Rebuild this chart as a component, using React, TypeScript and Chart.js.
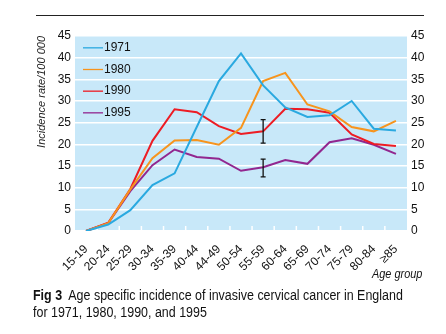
import React, { useEffect, useRef } from "react";
import { Chart, registerables } from "chart.js";

Chart.register(...registerables);

const ageGroups = ["15-19", "20-24", "25-29", "30-34", "35-39", "40-44", "44-49", "50-54", "55-59", "60-64", "65-69", "70-74", "75-79", "80-84", "≥85"];
const seriesLabels = ["1971", "1980", "1990", "1995"];
const rate1971 = [0, 1.5, 4.8, 10.6, 13.3, 24.0, 34.6, 41.0, 33.6, 28.5, 26.3, 26.7, 30.0, 23.6, 23.2];
const rate1980 = [0, 1.8, 9.6, 16.8, 20.9, 21.0, 19.9, 23.8, 34.6, 36.5, 29.2, 27.6, 24.0, 23.0, 25.4];
const rate1990 = [0, 1.9, 9.7, 20.8, 28.1, 27.4, 24.2, 22.4, 23.0, 28.2, 28.1, 27.3, 22.3, 20.1, 19.6];
const rate1995 = [0, 1.8, 9.2, 15.2, 18.8, 17.1, 16.7, 13.9, 14.7, 16.4, 15.5, 20.5, 21.4, 19.9, 17.8];
const seriesColors = ["#2aa9e0", "#f7941d", "#ed1c24", "#92278f"];
const yMin = 0;
const yMax = 45;
const yStep = 5;
// error bars: age group, low, high
const errorGroups = ["55-59", "55-59"];
const errorLow = [20.3, 12.5];
const errorHigh = [25.7, 16.6];

const FONT = '"Liberation Sans", Arial, Helvetica, sans-serif';

const bgPlugin = {
  id: "bg",
  beforeDraw(chart: any) {
    const { ctx, chartArea: a } = chart;
    ctx.save();
    ctx.fillStyle = "#c8e8f9";
    ctx.fillRect(a.left, a.top, a.right - a.left, a.bottom - a.top);
    ctx.restore();
  },
  beforeDatasetsDraw(chart: any) {
    const { ctx, chartArea: a } = chart;
    const xs = chart.scales.x;
    ctx.save();
    ctx.strokeStyle = "#ffffff";
    ctx.lineWidth = 1.5;
    for (let i = 1; i < ageGroups.length; i++) {
      const px = (xs.getPixelForValue(i - 1) + xs.getPixelForValue(i)) / 2;
      ctx.beginPath();
      ctx.moveTo(px, a.bottom);
      ctx.lineTo(px, a.bottom - 5);
      ctx.stroke();
    }
    ctx.restore();
  },
  afterDatasetsDraw(chart: any) {
    const { ctx } = chart;
    const xs = chart.scales.x;
    const ys = chart.scales.y;
    ctx.save();
    // error bars
    ctx.strokeStyle = "#111";
    ctx.lineWidth = 1.3;
    for (let i = 0; i < errorGroups.length; i++) {
      const px = xs.getPixelForValue(ageGroups.indexOf(errorGroups[i]));
      const y1 = ys.getPixelForValue(errorLow[i]);
      const y2 = ys.getPixelForValue(errorHigh[i]);
      ctx.beginPath();
      ctx.moveTo(px, y1);
      ctx.lineTo(px, y2);
      ctx.moveTo(px - 2.5, y1);
      ctx.lineTo(px + 2.5, y1);
      ctx.moveTo(px - 2.5, y2);
      ctx.lineTo(px + 2.5, y2);
      ctx.stroke();
    }
    // legend
    const left = chart.chartArea.left;
    ctx.font = `12px ${FONT}`;
    ctx.textBaseline = "middle";
    ctx.textAlign = "left";
    chart.data.datasets.forEach((ds: any, i: number) => {
      const py = ys.getPixelForValue(yMax - yStep / 2 - yStep * i) + 1;
      ctx.strokeStyle = ds.borderColor;
      ctx.lineWidth = 1.3;
      ctx.beginPath();
      ctx.moveTo(left + 8, py);
      ctx.lineTo(left + 28, py);
      ctx.stroke();
      ctx.fillStyle = "#111";
      ctx.fillText(ds.label, left + 29, py);
    });
    ctx.restore();
  },
};

export default function App() {
  const ref = useRef<HTMLCanvasElement>(null);
  useEffect(() => {
    if (!ref.current) return;
    const tickFont = { family: FONT, size: 12 };
    const chart = new Chart(ref.current, {
      type: "line",
      data: {
        labels: ageGroups,
        datasets: [rate1971, rate1980, rate1990, rate1995].map((d, i) => ({
          label: seriesLabels[i],
          data: d,
          borderColor: seriesColors[i],
          backgroundColor: seriesColors[i],
          borderWidth: 2,
          pointRadius: 0,
          tension: 0,
          fill: false,
        })),
      },
      options: {
        animation: false,
        responsive: false,
        layout: { padding: { top: 36, left: 30, right: 0, bottom: 0 } },
        plugins: { legend: { display: false }, tooltip: { enabled: false } },
        scales: {
          x: {
            offset: true,
            grid: { display: false },
            border: { display: false },
            ticks: { font: tickFont, color: "#111", maxRotation: 45, minRotation: 45, padding: 3, autoSkip: false },
            afterFit(s: any) { s.height = 59; },
          },
          y: {
            min: yMin,
            max: yMax,
            position: "left",
            grid: { color: "#ffffff", lineWidth: 1.5, drawTicks: false },
            border: { display: false },
            ticks: { font: tickFont, color: "#111", stepSize: yStep, padding: 4 },
            title: {
              display: true,
              text: "Incidence rate/100 000",
              align: "end",
              color: "#222",
              font: { family: FONT, size: 11, style: "italic" },
              padding: { top: 5, bottom: 0 },
            },
            afterFit(s: any) { s.width = 45; },
          },
          y2: {
            min: yMin,
            max: yMax,
            position: "right",
            grid: { display: false, drawTicks: false },
            border: { display: false },
            ticks: { font: tickFont, color: "#111", stepSize: yStep, padding: 4 },
            afterFit(s: any) { s.width = 39; },
          },
        },
      },
      plugins: [bgPlugin],
    } as any);
    return () => chart.destroy();
  }, []);

  return (
    <div style={{ position: "absolute", left: 0, top: 0, width: 446, height: 334, background: "#fff", fontFamily: FONT, color: "#111" }}>
      <div style={{ position: "absolute", left: 36, top: 15, width: 388, height: 0, borderTop: "1.5px solid #222" }} />
      <canvas ref={ref} width={446} height={290} style={{ position: "absolute", left: 0, top: 0 }} />
      <div style={{ position: "absolute", left: 372, top: 266, fontSize: 13, fontStyle: "italic", whiteSpace: "nowrap", transform: "scaleX(0.84)", transformOrigin: "left top" }}>Age group</div>
      <div style={{ position: "absolute", left: 33, top: 287, fontSize: 14, lineHeight: "17px", whiteSpace: "nowrap", transform: "scaleX(0.89)", transformOrigin: "left top" }}>
        <b>Fig 3</b>&nbsp; Age specific incidence of invasive cervical cancer in England
        <br />
        for 1971, 1980, 1990, and 1995
      </div>
    </div>
  );
}
